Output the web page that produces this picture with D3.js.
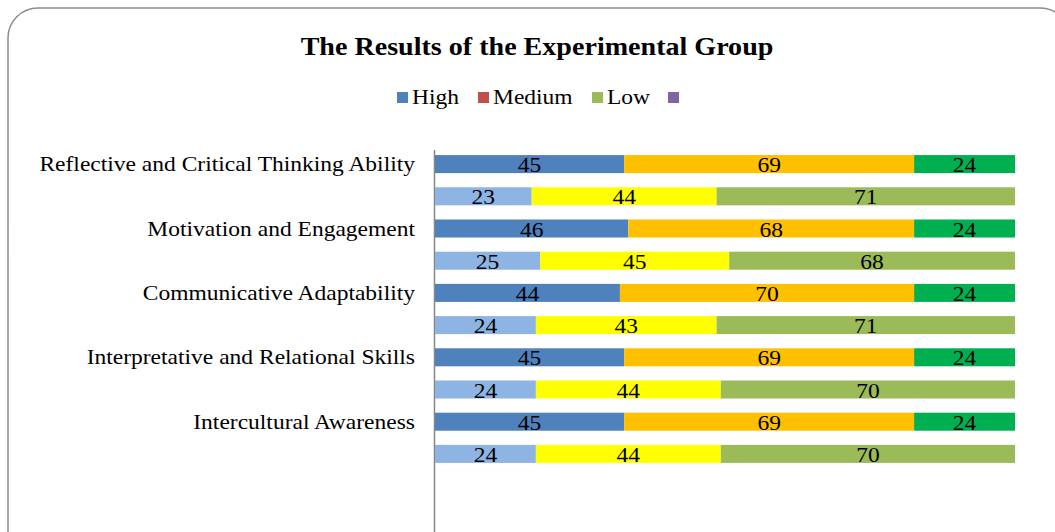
<!DOCTYPE html>
<html>
<head>
<meta charset="utf-8">
<script src="https://cdn.jsdelivr.net/npm/d3@7"></script>
<style>
  body { margin: 0; background: #fff; }
  text { font-family: "Liberation Serif", "Times New Roman", serif; }
</style>
</head>
<body>
<svg id="chart" width="1055" height="532"></svg>
<script>
// skills (each shown as two rows: labelled row then plain row)
var skills = ["Reflective and Critical Thinking Ability", "Motivation and Engagement",
	"Communicative Adaptability", "Interpretative and Relational Skills", "Intercultural Awareness"];

// first row of each pair
var highA = [45, 46, 44, 45, 45];
var mediumA = [69, 68, 70, 69, 69];
var lowA = [24, 24, 24, 24, 24];

// second row of each pair
var highB = [23, 25, 24, 24, 24];
var mediumB = [44, 45, 43, 44, 44];
var lowB = [71, 68, 71, 70, 70];

var legendNames = ["High", "Medium", "Low", ""];
var legendColors = ["#4f81bd", "#c0504d", "#9bbb59", "#8064a2"];
var colorsA = ["#4f81bd", "#ffc000", "#00b050"];
var colorsB = ["#8db4e2", "#ffff00", "#9bbb59"];

var stretch = 1.12; // the source text is drawn a bit wide

var svg = d3.select("#chart");

// frame
svg.append("rect")
	.attr("x", 8).attr("y", 8)
	.attr("width", 1062).attr("height", 560)
	.attr("rx", 30).attr("ry", 30)
	.attr("fill", "#fff")
	.attr("stroke", "#8c8c8c")
	.attr("stroke-width", 1.5);

svg.append("text")
	.attr("transform", "translate(537,55) scale(1.08,1)")
	.attr("text-anchor", "middle")
	.style("font-size", "26px")
	.style("font-weight", "bold")
	.text("The Results of the Experimental Group");

// legend
var legendX = [397, 478, 592, 668];
var legend = svg.append("g");
legendNames.forEach(function(n, i) {
	legend.append("rect")
		.attr("x", legendX[i]).attr("y", 92)
		.attr("width", 11).attr("height", 11)
		.attr("fill", legendColors[i]);
	legend.append("text")
		.attr("transform", "translate(" + (legendX[i] + 15) + ",104) scale(" + stretch + ",1)")
		.style("font-size", "21px")
		.text(n);
});

// rows table built from the arrays
var rows = [];
skills.forEach(function(s, i) {
	rows.push({ key: s, label: s, vals: [highA[i], mediumA[i], lowA[i]], colors: colorsA });
	rows.push({ key: s + "_b", label: "", vals: [highB[i], mediumB[i], lowB[i]], colors: colorsB });
});
rows.forEach(function(r) {
	var acc = 0;
	r.segs = r.vals.map(function(v, j) {
		var seg = { x0: acc, x1: acc + v, v: v, color: r.colors[j] };
		acc += v;
		return seg;
	});
});

var total = d3.max(rows, function(r) { return d3.sum(r.vals); });

var x = d3.scaleLinear()
	.domain([0, total])
	.range([435, 1015]);

var y = d3.scaleBand()
	.domain(rows.map(function(r) { return r.key; }))
	.range([148, 470])
	.paddingInner(0.44)
	.paddingOuter(0.22);

// axis line
svg.append("line")
	.attr("x1", 434.5).attr("x2", 434.5)
	.attr("y1", 150).attr("y2", 532)
	.attr("stroke", "#868686")
	.attr("stroke-width", 1.5);

var rowG = svg.selectAll(".row")
	.data(rows)
	.enter()
	.append("g")
	.attr("class", "row")
	.attr("transform", function(r) { return "translate(0," + y(r.key) + ")"; });

rowG.selectAll("rect")
	.data(function(r) { return r.segs; })
	.enter()
	.append("rect")
	.attr("x", function(d) { return x(d.x0); })
	.attr("width", function(d) { return x(d.x1) - x(d.x0); })
	.attr("height", y.bandwidth())
	.attr("fill", function(d) { return d.color; });

rowG.selectAll(".val")
	.data(function(r) { return r.segs; })
	.enter()
	.append("text")
	.attr("class", "val")
	.attr("transform", function(d) {
		return "translate(" + (x(d.x0) + x(d.x1)) / 2 + "," + (y.bandwidth() / 2 + 8) + ") scale(" + stretch + ",1)";
	})
	.attr("text-anchor", "middle")
	.style("font-size", "21px")
	.text(function(d) { return d.v; });

rowG.append("text")
	.attr("transform", "translate(415," + (y.bandwidth() / 2 + 7) + ") scale(" + stretch + ",1)")
	.attr("text-anchor", "end")
	.style("font-size", "21px")
	.text(function(r) { return r.label; });
</script>
</body>
</html>
